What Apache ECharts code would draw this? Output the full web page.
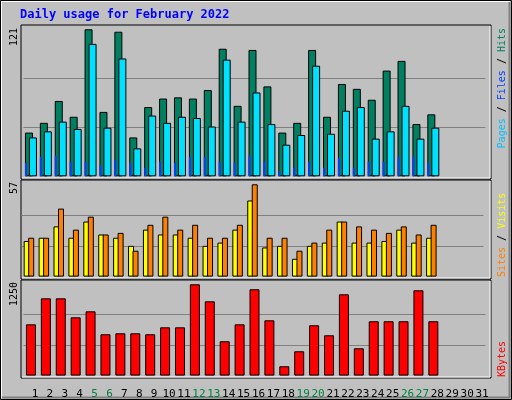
<!DOCTYPE html>
<html>
<head>
<meta charset="utf-8">
<script src="https://cdn.jsdelivr.net/npm/echarts@6/dist/echarts.min.js"></script>
<style>
  html, body { margin: 0; padding: 0; background: #c0c0c0; }
  #chart { width: 512px; height: 400px; }
</style>
</head>
<body>
<div id="chart"></div>
<script>
// 每日数据 daily usage, February 2022
var days = [];
for (var d = 1; d <= 31; d++) days.push(String(d));
var weekendDays = ['5', '6', '12', '13', '19', '20', '26', '27'];

var hits   = [36, 44, 62, 49, 121, 53, 119, 32, 57, 64, 65, 64, 71, 105, 58, 104, 74, 36, 44, 104, 49, 76, 72, 63, 87, 95, 43, 51];
var files  = [32, 37, 45, 39, 109, 40, 97, 23, 50, 44, 49, 48, 41, 96, 45, 69, 43, 26, 34, 91, 35, 54, 57, 31, 37, 58, 31, 40];
var pages  = [11, 16, 17, 12, 12, 9, 13, 11, 7, 12, 11, 16, 16, 12, 11, 17, 12, 4, 7, 12, 7, 15, 7, 12, 12, 16, 16, 11];
var visits = [22, 24, 31, 24, 34, 26, 24, 19, 29, 26, 26, 24, 19, 21, 29, 47, 18, 19, 11, 19, 21, 34, 21, 21, 22, 29, 21, 24];
var sites  = [24, 24, 42, 29, 37, 26, 27, 16, 32, 37, 29, 32, 24, 24, 32, 57, 24, 24, 16, 21, 29, 34, 31, 29, 27, 31, 26, 32];
var kbytes = [702, 1058, 1058, 798, 880, 566, 579, 579, 566, 661, 661, 1250, 1017, 470, 702, 1182, 757, 128, 333, 689, 552, 1113, 374, 744, 744, 744, 1168, 744];

var maxHits = 121, maxSites = 57, maxKB = 1250;

var chart = echarts.init(document.getElementById('chart'));
var W = 462;
var panels = [
    {top: 29.3, height: 147},
    {top: 184.3, height: 92.3},
    {top: 284.3, height: 91.3}
];
var splitCol = ['transparent', '#808080', '#808080', 'transparent'];
function yAx(gi, max, show) {
    return {
        gridIndex: gi, min: 0, max: max, interval: max / 3,
        axisLine: {show: false}, axisTick: {show: false}, axisLabel: {show: false},
        splitLine: {show: show, lineStyle: {color: splitCol, width: 1}}
    };
}
function xAx(gi, labels) {
    return {
        gridIndex: gi, type: 'category', data: days,
        axisLine: {show: false}, axisTick: {show: false},
        axisLabel: labels ? {
            show: true, interval: 0, margin: 14, padding: [0, 0, 0, 4],
            fontFamily: 'DejaVu Sans Mono', fontSize: 11,
            color: function (v) { return weekendDays.indexOf(v) >= 0 ? '#008040' : '#000000'; }
        } : {show: false}
    };
}
var bs = {borderColor: '#000', borderWidth: 1};
function rotText(x, y, align, rich, text) {
    return {type: 'text', x: x, y: y, rotation: Math.PI / 2, silent: true,
        style: {text: text, align: align, verticalAlign: 'middle', fontFamily: 'DejaVu Sans Mono', fontSize: 10, rich: rich}};
}
function frame(y1, y2) {
    return [
        {type: 'rect', shape: {x: 21, y: y1, width: 470, height: y2 - y1}, style: {fill: 'none', stroke: '#000', lineWidth: 1}},
        {type: 'polyline', shape: {points: [[22, y2 - 1], [490, y2 - 1], [490, y1 + 1]]}, style: {stroke: '#fff', lineWidth: 1, fill: 'none'}}
    ];
}

var option = {
    backgroundColor: '#c0c0c0',
    animation: false,
    grid: [
        {left: 23.5, width: W, top: panels[0].top, height: panels[0].height},
        {left: 21.5, width: W, top: panels[1].top, height: panels[1].height},
        {left: 23.5, width: W, top: panels[2].top, height: panels[2].height},
        {left: 18.5, width: W, top: panels[0].top, height: panels[0].height},
        {left: 25.5, width: W, top: panels[2].top, height: panels[2].height}
    ],
    xAxis: [xAx(0), xAx(1), xAx(2), xAx(3), xAx(4, true)],
    yAxis: [yAx(0, maxHits, true), yAx(1, maxSites, true), yAx(2, maxKB, true), yAx(3, maxHits, false), yAx(4, maxKB, false)],
    series: [
        {type: 'bar', xAxisIndex: 0, yAxisIndex: 0, data: hits, barWidth: 8, barGap: '-50%', itemStyle: Object.assign({color: '#008060'}, bs)},
        {type: 'bar', xAxisIndex: 0, yAxisIndex: 0, data: files, barWidth: 8, barGap: '-50%', itemStyle: Object.assign({color: '#00e0ff'}, bs)},
        {type: 'bar', xAxisIndex: 3, yAxisIndex: 3, data: pages, barWidth: 2, z: 5, itemStyle: {color: '#0040ff'}},
        {type: 'bar', xAxisIndex: 1, yAxisIndex: 1, data: visits, barWidth: 6, barGap: '-25%', itemStyle: Object.assign({color: '#ffff00'}, bs)},
        {type: 'bar', xAxisIndex: 1, yAxisIndex: 1, data: sites, barWidth: 6, barGap: '-25%', itemStyle: Object.assign({color: '#ff8000'}, bs)},
        {type: 'bar', xAxisIndex: 2, yAxisIndex: 2, data: kbytes, barWidth: 10, itemStyle: Object.assign({color: '#ff0000'}, bs)}
    ],
    graphic: [
        {type: 'rect', shape: {x: 0.5, y: 0.5, width: 511, height: 399}, style: {fill: 'none', stroke: '#000', lineWidth: 1}},
        {type: 'polyline', shape: {points: [[1.5, 398], [1.5, 1.5], [510, 1.5]]}, style: {stroke: '#fff', lineWidth: 1, fill: 'none'}},
        {type: 'polyline', shape: {points: [[2, 397.5], [509.5, 397.5], [509.5, 2]]}, style: {stroke: '#808080', lineWidth: 2, fill: 'none'}},
        {type: 'text', x: 20, y: 15, silent: true,
            style: {text: 'Daily usage for February 2022', fill: '#0000ff', fontFamily: 'DejaVu Sans Mono', fontWeight: 'bold', fontSize: 12, verticalAlign: 'middle'}},
        rotText(14, 28, 'right', {}, '121'),
        rotText(14, 182, 'right', {}, '57'),
        rotText(14, 282, 'right', {}, '1250'),
        rotText(502, 28, 'right', {p: {fill: '#00c0ff'}, f: {fill: '#0040ff'}, h: {fill: '#008060'}, s: {fill: '#000'}},
            '{p|Pages}{s| / }{f|Files}{s| / }{h|Hits}'),
        rotText(502, 277, 'left', {o: {fill: '#ff8000'}, y: {fill: '#ffff00'}, s: {fill: '#000'}},
            '{o|Sites}{s| / }{y|Visits}'),
        rotText(502, 377, 'left', {r: {fill: '#ff0000'}}, '{r|KBytes}')
    ].concat(frame(25, 179), frame(180, 279), frame(280, 378))
};
chart.setOption(option);
</script>
</body>
</html>
